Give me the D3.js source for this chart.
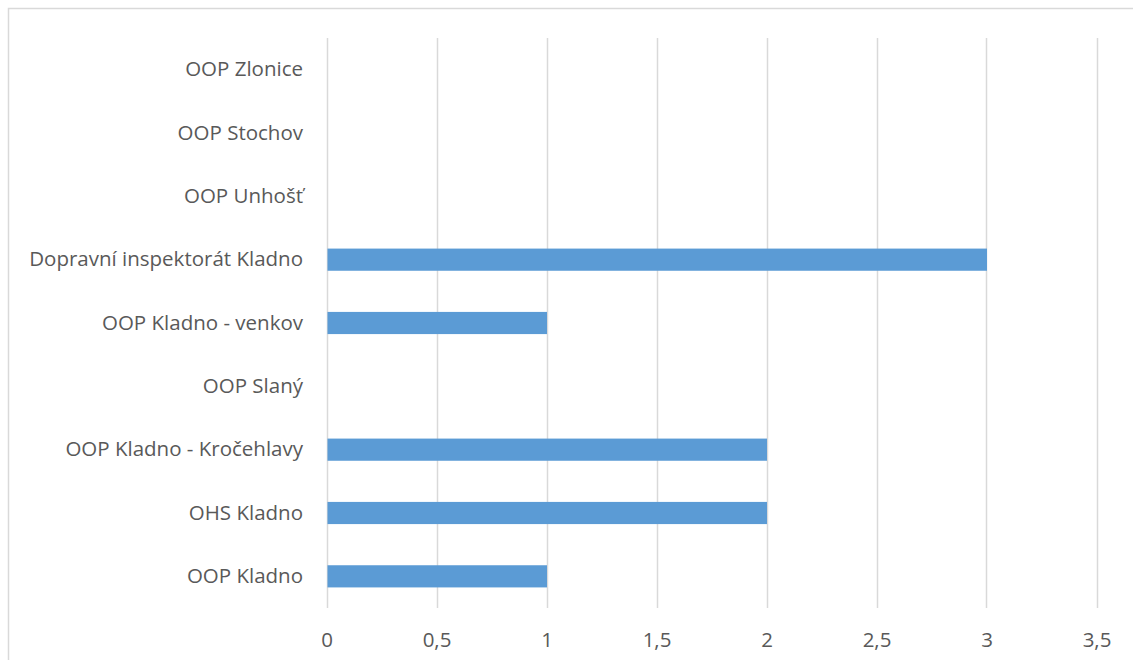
<!DOCTYPE html>
<html><head><meta charset="utf-8">
<script src="https://cdn.jsdelivr.net/npm/d3@7"></script>
<style>body{margin:0;background:#fff;}svg{display:block;}</style>
</head><body>
<script>
const categories = ["OOP Zlonice","OOP Stochov","OOP Unhošť","Dopravní inspektorát Kladno","OOP Kladno - venkov","OOP Slaný","OOP Kladno - Kročehlavy","OHS Kladno","OOP Kladno"];
const values = [0,0,0,3,1,0,2,2,1];
const tickValues = [0,0.5,1,1.5,2,2.5,3,3.5];
const tickLabels = ["0","0,5","1","1,5","2","2,5","3","3,5"];

const W=1133,H=660;
const svg=d3.select("body").append("svg").attr("width",W).attr("height",H);
svg.append("rect").attr("x",8.5).attr("y",8.5).attr("width",W).attr("height",H).attr("fill","#fff").attr("stroke","#d9d9d9").attr("stroke-width",1.5);
const x=d3.scaleLinear().domain([0,3.5]).range([326.5,1096.5]);
const y=d3.scaleBand().domain(categories).range([38,608]).paddingInner(0.65).paddingOuter(0.325);
const font="'Open Sans', sans-serif";
const g=svg.append("g");
g.selectAll("line.grid").data(tickValues).join("line").attr("class","grid")
 .attr("x1",d=>Math.round(x(d))+0.5).attr("x2",d=>Math.round(x(d))+0.5).attr("y1",38).attr("y2",608)
 .attr("stroke","#d9d9d9").attr("stroke-width",1.5);
g.selectAll("rect.bar").data(values).join("rect").attr("class","bar")
 .attr("x",x(0)+1).attr("y",(d,i)=>y(categories[i])).attr("height",y.bandwidth())
 .attr("width",d=>Math.max(0,x(d)-x(0)-0.5)).attr("fill","#5b9bd5");
const xa=d3.axisBottom(x).tickValues(tickValues).tickFormat((d,i)=>tickLabels[i]).tickSize(0).tickPadding(0);
const ax=svg.append("g").attr("transform","translate(0,640)").call(xa);
ax.select(".domain").remove();
ax.selectAll("text").attr("font-family",font).attr("font-size",20.5).attr("fill","#595959").attr("dy","0.35em");
const ya=d3.axisLeft(y).tickSize(0).tickPadding(0);
const ay=svg.append("g").attr("transform","translate(303,0)").call(ya);
ay.select(".domain").remove();
ay.selectAll("text").attr("font-family",font).attr("font-size",20.5).attr("fill","#595959");
</script>
</body></html>
